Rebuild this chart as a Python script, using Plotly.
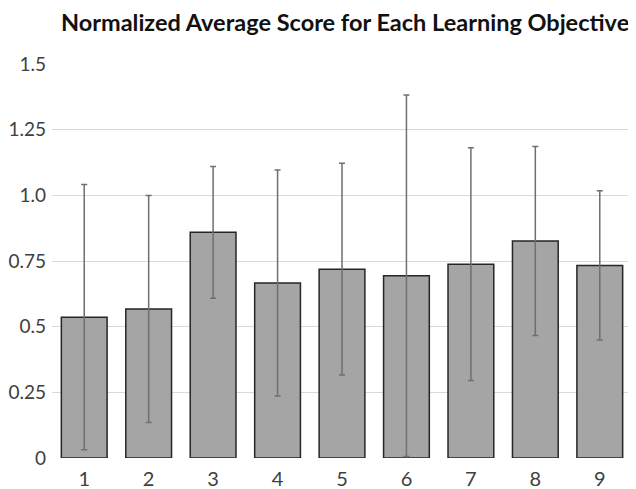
import plotly.graph_objects as go

categories = ["1", "2", "3", "4", "5", "6", "7", "8", "9"]
mean_scores = [0.536, 0.567, 0.859, 0.666, 0.719, 0.694, 0.738, 0.826, 0.733]
std_devs = [0.505, 0.432, 0.251, 0.430, 0.403, 0.688, 0.443, 0.360, 0.284]
y_ticks = [0, 0.25, 0.5, 0.75, 1.0, 1.25, 1.5]
y_tick_labels = ["0", "0.25", "0.5", "0.75", "1.0", "1.25", "1.5"]

fig = go.Figure()
fig.add_trace(go.Bar(
    x=categories,
    y=mean_scores,
    marker=dict(color="#a5a5a5", line=dict(color="#262626", width=1.5)),
    error_y=dict(type="data", array=std_devs, visible=True,
                 color="#6f6f6f", thickness=1.5, width=3),
))

# page body has an 8px margin, so layout is offset accordingly
fig.update_layout(
    width=636, height=489,
    margin=dict(l=44, r=12, t=56, b=39, autoexpand=False),
    paper_bgcolor="white", plot_bgcolor="white",
    bargap=0.29,
    showlegend=False,
    title=dict(text="<b>Normalized Average Score for Each Learning Objective</b>",
               x=0.530, xanchor="center", y=0.970, yanchor="middle",
               font=dict(family="Lato", size=23.5, color="#111111")),
    font=dict(family="Lato", size=19, color="#404040"),
)
fig.update_yaxes(range=[0, 1.5], tickvals=y_ticks, ticktext=y_tick_labels,
                 showgrid=True, gridcolor="#d9d9d9", gridwidth=1,
                 zeroline=False, showline=False, automargin=False,
                 ticks="", ticklabelstandoff=5,
                 tickfont=dict(family="Lato", size=19, color="#404040"))
fig.update_xaxes(showgrid=False, showline=False, zeroline=False, automargin=False,
                 ticks="", ticklabelstandoff=7,
                 tickfont=dict(family="Lato", size=20, color="#404040"))

fig.write_html("out.html")
